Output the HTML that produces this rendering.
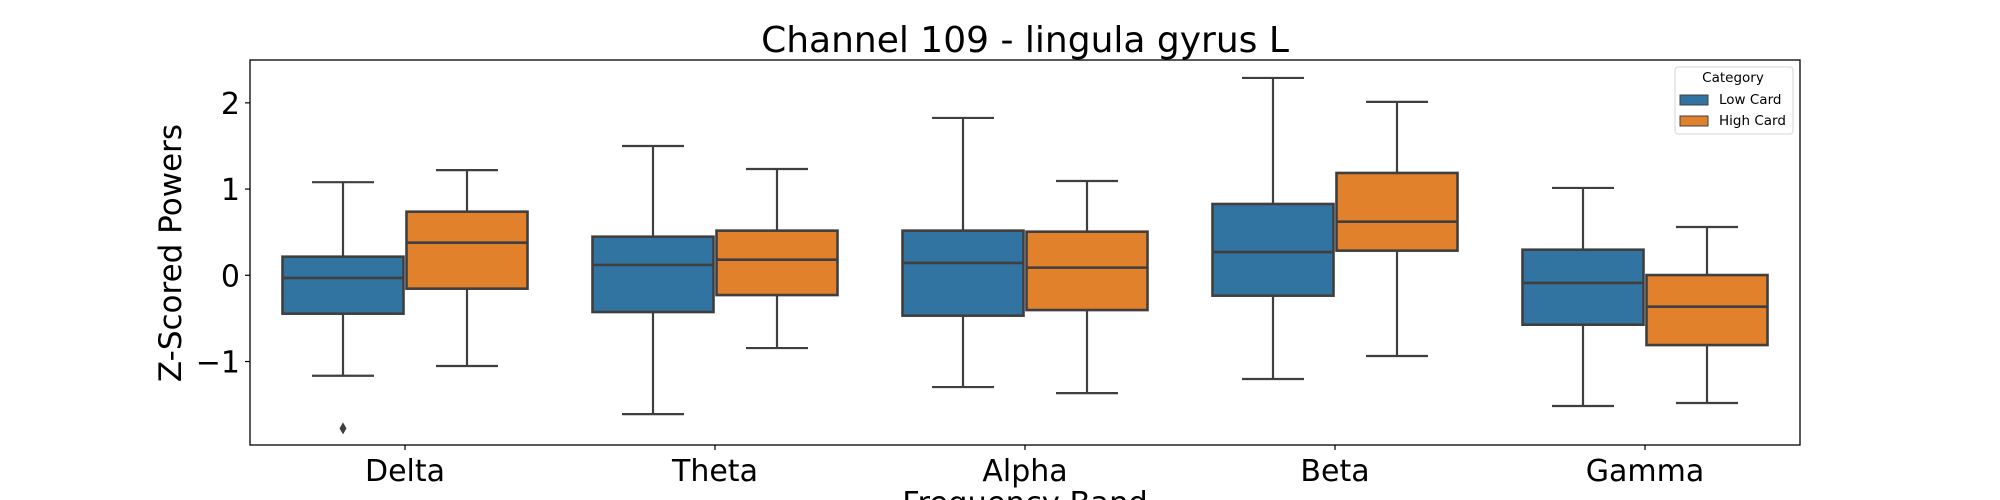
<!DOCTYPE html>
<html><head><meta charset="utf-8"><style>
html,body{margin:0;padding:0;background:#fff;}
svg{display:block;font-family:"DejaVu Sans","Liberation Sans",sans-serif;}
</style></head><body>
<svg id="chart" width="2000" height="500" viewBox="0 0 2000 500" xmlns="http://www.w3.org/2000/svg">
<rect width="2000" height="500" fill="#fff"/>
<text x="1025" y="52" font-size="36" text-anchor="middle">Channel 109 - lingula gyrus L</text>
<g id="marks"></g>
<rect x="250" y="60" width="1550" height="385" fill="none" stroke="#000" stroke-width="1.3"/>
<g id="ticks"></g>
<text transform="translate(181,253) rotate(-90)" font-size="31" text-anchor="middle">Z-Scored Powers</text>
<text x="1025" y="513" font-size="30.5" text-anchor="middle">Frequency Band</text>
<g>
<rect x="1675" y="67" width="118" height="67" rx="3" fill="#fff" stroke="#ddd" stroke-width="1.2"/>
<text x="1733" y="82" font-size="13.5" text-anchor="middle">Category</text>
<rect x="1680" y="95" width="28" height="10" fill="#3274a1" stroke="#3f3f3f" stroke-width="1"/>
<text x="1719" y="104" font-size="13.5">Low Card</text>
<rect x="1680" y="116" width="28" height="10" fill="#e1812c" stroke="#3f3f3f" stroke-width="1"/>
<text x="1719" y="125" font-size="13.5">High Card</text>
</g>
</svg>
<script>
const categories = ["Delta","Theta","Alpha","Beta","Gamma"];
const seriesNames = ["Low Card","High Card"];
// [whiskerLow, Q1, median, Q3, whiskerHigh]
const lowCard = [
  [-1.165,-0.445,-0.03,0.216,1.08],
  [-1.61,-0.426,0.12,0.448,1.5],
  [-1.296,-0.468,0.143,0.518,1.825],
  [-1.203,-0.236,0.27,0.827,2.289],
  [-1.516,-0.573,-0.089,0.297,1.013]
];
const highCard = [
  [-1.052,-0.155,0.378,0.738,1.22],
  [-0.844,-0.229,0.181,0.518,1.233],
  [-1.366,-0.403,0.089,0.506,1.094],
  [-0.936,0.286,0.622,1.187,2.011],
  [-1.481,-0.809,-0.364,0.003,0.56]
];
const lowOutliers = [[-1.775],[],[],[],[]];
const highOutliers = [[],[],[],[],[]];
const yTicks = [-1,0,1,2];
const yTickLabels = ["\u22121","0","1","2"];

const NS="http://www.w3.org/2000/svg";
const L=250,R=1800,T=60,B=445,yMin=-1.968,yMax=2.497;
const band=(R-L)/categories.length;
const xC=i=>L+band*(i+0.5);
const y=v=>B-(v-yMin)/(yMax-yMin)*(B-T);
const marks=document.getElementById('marks');
const ticks=document.getElementById('ticks');
function mk(tag,attrs,parent){const e=document.createElementNS(NS,tag);for(const k in attrs)e.setAttribute(k,attrs[k]);parent.appendChild(e);return e;}
const colors=["#3274a1","#e1812c"];
const boxW=band*0.8/2;
[lowCard,highCard].forEach((series,s)=>{
  const outs=s===0?lowOutliers:highOutliers;
  series.forEach((d,i)=>{
    const cx=xC(i)+(s===0?-boxW/2:boxW/2);
    const g=mk('g',{},marks);
    
    
    const st={stroke:"#3f3f3f","stroke-width":2.2,fill:"none"};
    mk('line',Object.assign({x1:cx,x2:cx,y1:y(d[0]),y2:y(d[1])},st),g);
    mk('line',Object.assign({x1:cx,x2:cx,y1:y(d[3]),y2:y(d[4])},st),g);
    mk('line',Object.assign({x1:cx-boxW/4,x2:cx+boxW/4,y1:y(d[0]),y2:y(d[0])},st),g);
    mk('line',Object.assign({x1:cx-boxW/4,x2:cx+boxW/4,y1:y(d[4]),y2:y(d[4])},st),g);
    mk('rect',{x:cx-boxW/2+1.5,y:y(d[3]),width:boxW-3,height:y(d[1])-y(d[3]),fill:colors[s],stroke:"#3f3f3f","stroke-width":2.6},g);
    mk('line',Object.assign({x1:cx-boxW/2+1.5,x2:cx+boxW/2-1.5,y1:y(d[2]),y2:y(d[2])},st,{"stroke-width":2.6}),g);
    outs[i].forEach(o=>{
      const p=mk('path',{d:`M${cx},${y(o)-6} L${cx+3.5},${y(o)} L${cx},${y(o)+6} L${cx-3.5},${y(o)} Z`,fill:"#3f3f3f"},g);
      
      
    });
  });
});
yTicks.forEach((t,i)=>{
  mk('line',{x1:L-5,x2:L,y1:y(t),y2:y(t),stroke:"#000","stroke-width":1.2},ticks);
  const tx=mk('text',{x:L-10,y:y(t)+11,"font-size":30,"text-anchor":"end"},ticks);
  tx.textContent=yTickLabels[i];
  
  
});
categories.forEach((c,i)=>{
  mk('line',{x1:xC(i),x2:xC(i),y1:B,y2:B+5,stroke:"#000","stroke-width":1.2},ticks);
  const tx=mk('text',{x:xC(i),y:B+36,"font-size":30,"text-anchor":"middle"},ticks);
  tx.textContent=c;
  
  
});
</script>
</body></html>
